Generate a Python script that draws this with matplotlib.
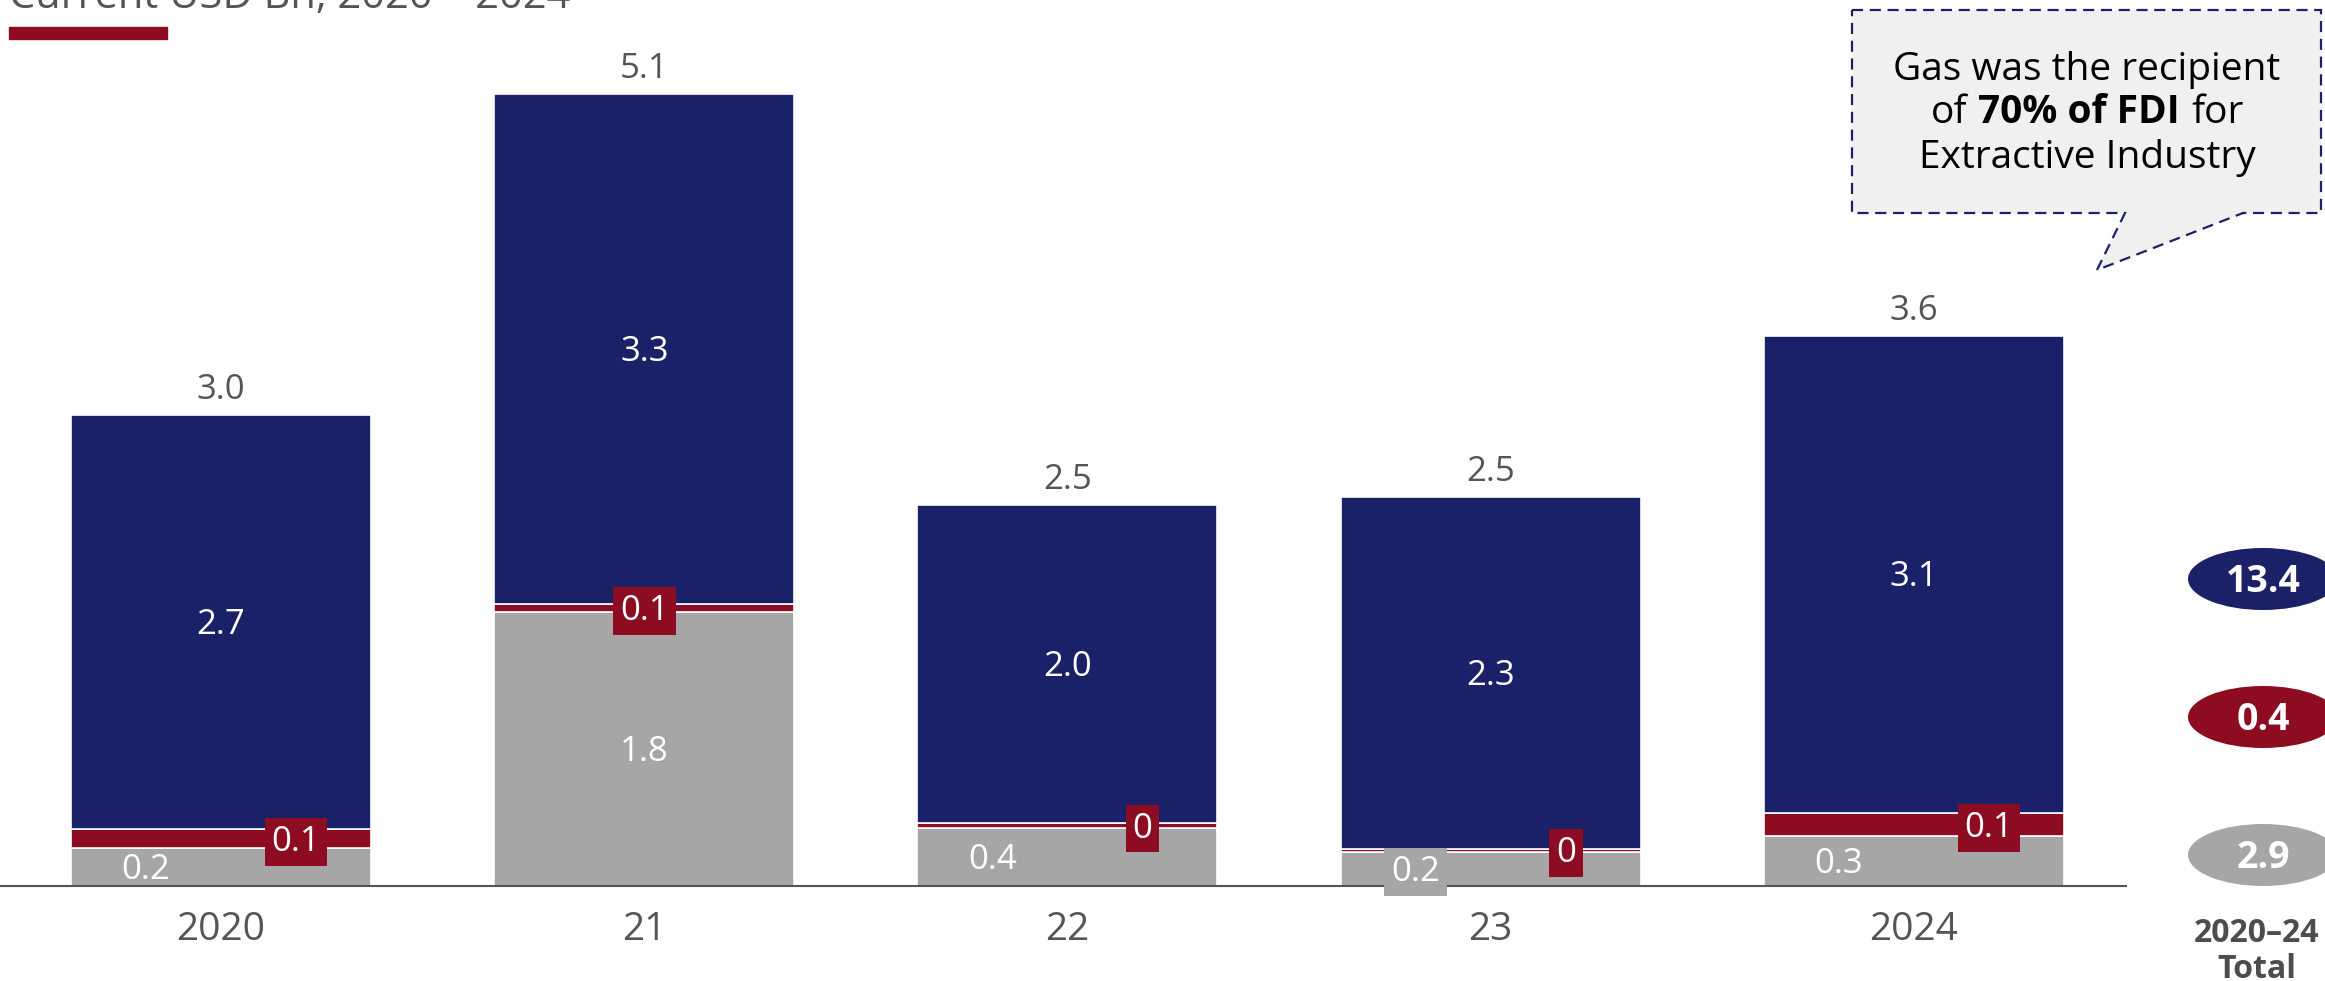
import numpy as np
import matplotlib
matplotlib.use("Agg")
import matplotlib.pyplot as plt
from matplotlib.patches import Rectangle, Polygon, Ellipse

plt.rcParams['font.family'] = ['Open Sans', 'DejaVu Sans']

# data, current USD Bn
years = ['2020', '21', '22', '23', '2024']
gray_vals = [0.245, 1.77, 0.375, 0.22, 0.32]
red_vals = [0.12, 0.05, 0.03, 0.02, 0.15]
blue_vals = [2.675, 3.29, 2.055, 2.27, 3.08]
gray_labels = ['0.2', '1.8', '0.4', '0.2', '0.3']
red_labels = ['0.1', '0.1', '0', '0', '0.1']
blue_labels = ['2.7', '3.3', '2.0', '2.3', '3.1']
total_labels = ['3.0', '5.1', '2.5', '2.5', '3.6']
sum_labels = ['13.4', '0.4', '2.9']

NAVY = '#1a2169'
RED = '#8e0c21'
GRAY = '#a6a6a6'
TXT = '#555555'

W, H = 2325, 981
PXU = 155.0  # pixels per unit


def fx(x):
    return x / W


def fy(y):
    return 1 - y / H


fig = plt.figure(figsize=(W / 100, H / 100), dpi=100)
ax = fig.add_axes([0, (H - 886) / H, 2126 / W, 886 / H])

x = np.arange(len(years))
bw = 0.709
gray = np.array(gray_vals)
red = np.array(red_vals)
blue = np.array(blue_vals)

ax.bar(x, gray, bw, color=GRAY, edgecolor='white', linewidth=1.2)
ax.bar(x, red, bw, bottom=gray, color=RED, edgecolor='white', linewidth=1.2)
ax.bar(x, blue, bw, bottom=gray + red, color=NAVY, edgecolor='white', linewidth=1.2)

ax.set_xlim(-0.522, 4.501)
ax.set_ylim(0, 886 / PXU)
for s in ['top', 'left', 'right']:
    ax.spines[s].set_visible(False)
ax.spines['bottom'].set_color(TXT)
ax.spines['bottom'].set_linewidth(1.5)
ax.set_yticks([])
ax.set_xticks(x, years)
ax.tick_params(axis='x', length=0, pad=18, labelsize=28, labelcolor=TXT)

# label layout per bar
offs = [0.25, 0.0, 0.25, 0.25, 0.25]
gray_box = [False, False, False, True, False]
lab_fs = 25
dy = 12 / PXU
totals = gray + red + blue
for i in range(len(years)):
    o = offs[i] * bw
    ax.text(x[i], totals[i] + 16 / PXU, total_labels[i], ha='center',
            va='baseline', fontsize=lab_fs, color=TXT)
    yb = gray[i] + red[i] + blue[i] / 2
    ax.text(x[i], yb - dy, blue_labels[i], ha='center', va='baseline',
            fontsize=lab_fs, color='white')
    yr = gray[i] + red[i] / 2
    ax.text(x[i] + o, yr - dy, red_labels[i], ha='center', va='baseline',
            fontsize=lab_fs, color='white',
            bbox=dict(boxstyle='square,pad=0.2', fc=RED, ec='none'))
    yg = gray[i] / 2
    kw = {}
    if gray_box[i]:
        kw['bbox'] = dict(boxstyle='square,pad=0.2', fc=GRAY, ec='none')
    ax.text(x[i] - o, yg - dy, gray_labels[i], ha='center', va='baseline',
            fontsize=lab_fs, color='white', **kw)

# title (cropped) and legend swatch
fig.text(fx(9), fy(8), 'Current USD Bn, 2020 – 2024', fontsize=30, color=TXT,
         ha='left', va='baseline')
fig.patches.append(Rectangle((fx(9), fy(39)), 158 / W, 12 / H, color=RED,
                             transform=fig.transFigure))

# callout
pts = [(1852, 10), (2321, 10), (2321, 213), (2243, 213), (2097, 270),
       (2125, 213), (1852, 213)]
fig.patches.append(Polygon([(fx(a), fy(b)) for a, b in pts], closed=True,
                           fc='#f0f0f0', ec=NAVY, lw=1.6, ls=(0, (5, 3)),
                           transform=fig.transFigure))
cx = 2087
cfs = 28
fig.text(fx(cx), fy(80), 'Gas was the recipient', ha='center', va='baseline',
         fontsize=cfs, color='black')
fig.text(fx(cx), fy(168), 'Extractive Industry', ha='center', va='baseline',
         fontsize=cfs, color='black')
rend = fig.canvas.get_renderer()
parts = [('of', 'normal'), ('70% of FDI', 'bold'), ('for', 'normal')]
pts2 = [fig.text(0, fy(123), s, fontweight=w, fontsize=cfs, color='black',
                 ha='left', va='baseline') for s, w in parts]
gap = 11
widths = [t.get_window_extent(rend).width for t in pts2]
start = cx - (sum(widths) + gap * 2) / 2
for t, w in zip(pts2, widths):
    t.set_x(fx(start))
    start += w + gap

# totals on the right
for yc, col, s in zip([579, 717, 855], [NAVY, RED, GRAY], sum_labels):
    fig.patches.append(Ellipse((fx(2263), fy(yc)), 150 / W, 62 / H, fc=col,
                               ec='none', transform=fig.transFigure))
    fig.text(fx(2263), fy(yc + 13.5), s, ha='center', va='baseline',
             fontsize=27, fontweight='bold', color='white')
fig.text(fx(2257), fy(942), '2020–24', ha='center', va='baseline',
         fontsize=23, fontweight='bold', color='#4d4d4d')
fig.text(fx(2257), fy(978), 'Total', ha='center', va='baseline',
         fontsize=23, fontweight='bold', color='#4d4d4d')

fig.savefig('out.png', dpi=100)
